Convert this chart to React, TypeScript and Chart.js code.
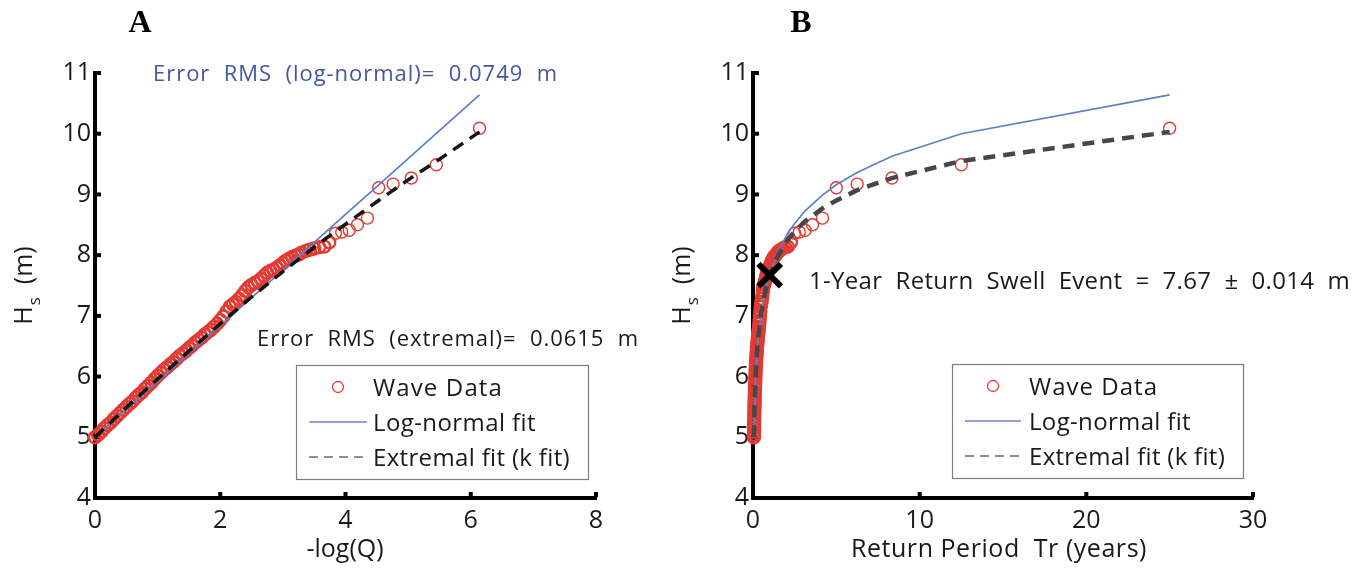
import React, { useEffect, useRef } from "react";
import { Chart, registerables } from "chart.js";

Chart.register(...registerables);

// Ranked significant wave heights (largest event last): plotting position -log(Q),
// return period Tr (years) and Hs (m).
const waveNegLogQ = [
  0.0, 0.05, 0.1, 0.15, 0.2, 0.25, 0.3, 0.35, 0.4, 0.45, 0.5, 0.55, 0.6, 0.65, 0.7, 0.75,
  0.8, 0.85, 0.9, 0.95, 1.0, 1.05, 1.1, 1.15, 1.2, 1.25, 1.3, 1.35, 1.4, 1.45, 1.5, 1.55,
  1.6, 1.65, 1.7, 1.75, 1.8, 1.85, 1.9, 1.95, 2.0, 2.05, 2.1, 2.15, 2.2, 2.25, 2.3, 2.35,
  2.4, 2.45, 2.5, 2.55, 2.6, 2.65, 2.7, 2.75, 2.8, 2.85, 2.9, 2.95, 3.0, 3.05, 3.1, 3.15,
  3.2, 3.25, 3.3, 3.37, 3.43, 3.5, 3.58, 3.66, 3.74, 3.84, 3.94, 4.06, 4.19, 4.35, 4.53,
  4.76, 5.05, 5.45, 6.14,
];
const waveReturnPeriod = [
  0.054, 0.0566, 0.0595, 0.0625, 0.0657, 0.0691, 0.0726, 0.0763, 0.0803, 0.0844, 0.0887,
  0.0933, 0.098, 0.1031, 0.1083, 0.1139, 0.1197, 0.1259, 0.1323, 0.1391, 0.1462, 0.1537,
  0.1616, 0.1699, 0.1786, 0.1878, 0.1974, 0.2075, 0.2182, 0.2294, 0.2411, 0.2535, 0.2665,
  0.2801, 0.2945, 0.3096, 0.3255, 0.3422, 0.3597, 0.3781, 0.3975, 0.4179, 0.4393, 0.4619,
  0.4855, 0.5104, 0.5366, 0.5641, 0.593, 0.6234, 0.6554, 0.689, 0.7244, 0.7615, 0.8005,
  0.8416, 0.8847, 0.9301, 0.9778, 1.0279, 1.0806, 1.136, 1.1943, 1.2555, 1.3199, 1.3875,
  1.4587, 1.5625, 1.667, 1.786, 1.923, 2.083, 2.273, 2.5, 2.778, 3.125, 3.571, 4.167, 5.0,
  6.25, 8.333, 12.5, 25.0,
];
const waveHs = [
  5.0, 5.04, 5.09, 5.15, 5.2, 5.24, 5.3, 5.35, 5.4, 5.45, 5.5, 5.55, 5.59, 5.65, 5.7, 5.74,
  5.8, 5.85, 5.9, 5.96, 6.01, 6.06, 6.11, 6.15, 6.2, 6.24, 6.29, 6.34, 6.38, 6.42, 6.47, 6.51,
  6.56, 6.6, 6.64, 6.69, 6.73, 6.77, 6.82, 6.87, 6.93, 6.99, 7.07, 7.15, 7.19, 7.23, 7.28,
  7.34, 7.41, 7.47, 7.51, 7.54, 7.57, 7.61, 7.66, 7.71, 7.74, 7.76, 7.79, 7.83, 7.87, 7.91,
  7.94, 7.97, 7.99, 8.01, 8.04, 8.07, 8.09, 8.11, 8.13, 8.14, 8.21, 8.36, 8.38, 8.41, 8.5,
  8.61, 9.11, 9.17, 9.27, 9.49, 10.09,
];
// Events from this index on are the sparse upper tail
const sparseTailStart = 73;

// Fitted distributions against -log(Q)
const fitNegLogQ = [0, 0.5, 1, 1.5, 2, 2.5, 3, 3.5, 4, 4.5, 5, 5.5, 6.14];
const logNormalFitA = [5.0, 5.46, 5.92, 6.38, 6.84, 7.3, 7.75, 8.21, 8.67, 9.13, 9.59, 10.05, 10.64];
const extremalFitA = [5.0, 5.49, 5.96, 6.42, 6.87, 7.31, 7.73, 8.13, 8.51, 8.88, 9.24, 9.58, 10.03];

// Fitted distributions against return period
const fitReturnPeriod = [0.054, 0.1, 0.2, 0.3, 0.5, 0.75, 1, 1.5, 2.083, 2.5, 3.125, 4.167, 5, 6.25, 8.333, 12.5, 25];
const logNormalFitB = [5.0, 5.57, 6.2, 6.58, 7.05, 7.42, 7.68, 8.05, 8.36, 8.52, 8.73, 8.99, 9.16, 9.36, 9.63, 10.0, 10.64];
const extremalFitB = [5.0, 5.6, 6.25, 6.62, 7.07, 7.42, 7.67, 7.99, 8.25, 8.39, 8.56, 8.77, 8.9, 9.07, 9.27, 9.55, 10.03];

// One-year return event
const oneYearPeriod = [1];
const oneYearHs = [7.67];
const oneYearError = 0.014;

const errorRmsLogNormal = 0.0749;
const errorRmsExtremal = 0.0615;

const hsTicks = [4, 5, 6, 7, 8, 9, 10, 11];
const negLogQTicks = [0, 2, 4, 6, 8];
const returnPeriodTicks = [0, 10, 20, 30];

const legendLabels = ["Wave Data", "Log-normal fit", "Extremal fit (k fit)"];

const SANS = '"Open Sans", "DejaVu Sans", sans-serif';
const SERIF = '"Liberation Serif", "Times New Roman", serif';
const RED = "#e23b33";
const BLUE = "#5b80c6";

const pts = (xs: number[], ys: number[]) => xs.map((x, i) => ({ x, y: ys[i] }));

function drawText(ctx: any, t: any) {
  ctx.save();
  ctx.font = `${t.weight || ""} ${t.size}px ${t.family || SANS}`;
  ctx.fillStyle = t.color || "#1a1a1a";
  ctx.textBaseline = "alphabetic";
  ctx.textAlign = "left";
  ctx.letterSpacing = "0px";
  let w = ctx.measureText(t.text).width;
  if (t.width) {
    const n = Array.from(t.text as string).length;
    ctx.letterSpacing = `${(t.width - w) / n}px`;
    w = t.width;
  }
  const x = t.align === "center" ? t.x - w / 2 : t.x;
  ctx.fillText(t.text, x, t.cy + 0.357 * t.size);
  ctx.restore();
}

function drawYTitle(ctx: any, cx: number, cy: number) {
  ctx.save();
  ctx.translate(cx, cy);
  ctx.rotate(-Math.PI / 2);
  const big = `25px ${SANS}`;
  const small = `17px ${SANS}`;
  ctx.font = big;
  const wH = ctx.measureText("H").width;
  const wM = ctx.measureText("  (m)").width;
  ctx.font = small;
  const wS = ctx.measureText("s").width + 1;
  let x = -(wH + wS + wM) / 2;
  const base = 0.357 * 25;
  ctx.fillStyle = "#1a1a1a";
  ctx.textBaseline = "alphabetic";
  ctx.font = big;
  ctx.fillText("H", x, base);
  x += wH;
  ctx.font = small;
  ctx.fillText("s", x + 1, base + 8);
  x += wS;
  ctx.font = big;
  ctx.fillText("  (m)", x, base);
  ctx.restore();
}

function drawLegend(ctx: any, L: any) {
  ctx.save();
  ctx.fillStyle = "#ffffff";
  ctx.fillRect(L.left, L.top, L.right - L.left, L.bottom - L.top);
  ctx.strokeStyle = "#7d7d7d";
  ctx.lineWidth = 1.2;
  ctx.strokeRect(L.left + 0.5, L.top + 0.5, L.right - L.left, L.bottom - L.top);

  ctx.strokeStyle = RED;
  ctx.lineWidth = 1.3;
  ctx.beginPath();
  ctx.arc(L.symbolX, L.rows[0], 5.5, 0, Math.PI * 2);
  ctx.stroke();

  ctx.strokeStyle = "#7184c4";
  ctx.lineWidth = 1.5;
  ctx.beginPath();
  ctx.moveTo(L.lineFrom, L.rows[1]);
  ctx.lineTo(L.lineTo, L.rows[1]);
  ctx.stroke();

  ctx.strokeStyle = "#6a6a6a";
  ctx.setLineDash([9, 6]);
  ctx.beginPath();
  ctx.moveTo(L.lineFrom, L.rows[2]);
  ctx.lineTo(L.lineTo, L.rows[2]);
  ctx.stroke();
  ctx.setLineDash([]);
  ctx.restore();

  legendLabels.forEach((text, i) =>
    drawText(ctx, { text, x: L.textX, cy: L.rows[i], size: 24, width: L.widths[i] })
  );
}

function decorPlugin(spec: any) {
  return {
    id: "panelDecor",
    beforeDatasetsDraw(chart: any) {
      const { ctx, chartArea, scales } = chart;
      ctx.save();
      ctx.fillStyle = "#000";
      scales.x.ticks.forEach((t: any) => {
        const px = scales.x.getPixelForValue(t.value);
        ctx.fillRect(px - 2, chartArea.bottom - 6, 4, 5);
      });
      scales.y.ticks.forEach((t: any) => {
        const py = scales.y.getPixelForValue(t.value);
        ctx.fillRect(chartArea.left + 1, py - 2, 5, 4);
      });
      ctx.restore();
    },
    afterDraw(chart: any) {
      const { ctx } = chart;
      drawText(ctx, {
        text: spec.letter, x: spec.letterX, cy: 21, size: 32, weight: "bold",
        family: SERIF, color: "#000", align: "center",
      });
      drawYTitle(ctx, 23.5, 285.5);
      drawText(ctx, {
        text: spec.xTitle, x: spec.xTitleX, cy: 548, size: 25, align: "center",
        width: spec.xTitleWidth,
      });
      spec.notes.forEach((n: any) => drawText(ctx, n));
      drawLegend(ctx, spec.legend);
    },
  };
}

function buildConfig(spec: any) {
  const tickFont = { family: SANS, size: 25 };
  return {
    type: "scatter",
    data: {
      datasets: spec.datasets,
    },
    options: {
      animation: false,
      responsive: false,
      maintainAspectRatio: false,
      layout: { padding: { left: 0, top: 73, right: spec.padRight, bottom: 0 } },
      plugins: { legend: { display: false }, tooltip: { enabled: false } },
      scales: {
        x: {
          type: "linear",
          min: spec.xTicks[0],
          max: spec.xTicks[spec.xTicks.length - 1],
          afterFit: (s: any) => {
            s.height = 70;
          },
          grid: { display: false, drawTicks: false },
          border: { display: true, color: "#000", width: 4 },
          ticks: {
            stepSize: spec.xTicks[1] - spec.xTicks[0],
            font: tickFont,
            color: "#1a1a1a",
            padding: 8,
            maxRotation: 0,
            autoSkip: false,
          },
        },
        y: {
          type: "linear",
          min: hsTicks[0],
          max: hsTicks[hsTicks.length - 1],
          afterFit: (s: any) => {
            s.width = 95;
          },
          grid: { display: false, drawTicks: false },
          border: { display: true, color: "#000", width: 4 },
          ticks: {
            stepSize: hsTicks[1] - hsTicks[0],
            font: tickFont,
            color: "#1a1a1a",
            padding: 4,
            autoSkip: false,
          },
        },
      },
    },
    plugins: [decorPlugin(spec)],
  };
}

function seriesSet(waveX: number[], fitX: number[], logN: number[], ext: number[], dashColor: string, dashWidth: number, extra: any[]) {
  return [
    ...extra,
    {
      label: legendLabels[2],
      data: pts(fitX, ext),
      showLine: true,
      borderColor: dashColor,
      borderWidth: dashWidth,
      borderDash: [12, 8],
      pointRadius: 0,
      tension: 0,
      clip: false,
      order: 1,
    },
    {
      label: legendLabels[1],
      data: pts(fitX, logN),
      showLine: true,
      borderColor: BLUE,
      borderWidth: 1.7,
      pointRadius: 0,
      tension: 0,
      clip: false,
      order: 2,
    },
    {
      label: legendLabels[0],
      data: pts(waveX, waveHs),
      showLine: false,
      pointStyle: "circle",
      pointRadius: 6,
      // the crowded lower events overlap into a solid band
      pointBorderWidth: (c: any) => (c.dataIndex < sparseTailStart ? 2.4 : 1.4),
      borderColor: RED,
      backgroundColor: "rgba(0,0,0,0)",
      clip: false,
      order: 3,
    },
  ];
}

const panelA = {
  letter: "A",
  letterX: 140,
  padRight: 62,
  xTicks: negLogQTicks,
  xTitle: "-log(Q)",
  xTitleX: 345,
  datasets: seriesSet(waveNegLogQ, fitNegLogQ, logNormalFitA, extremalFitA, "#151515", 3.5, []),
  notes: [
    {
      text: `Error  RMS  (log-normal)=  ${errorRmsLogNormal.toFixed(4)}  m`,
      x: 153, cy: 73, size: 22, width: 405, color: "#4356a6",
    },
    {
      text: `Error  RMS  (extremal)=  ${errorRmsExtremal.toFixed(4)}  m`,
      x: 257, cy: 338, size: 22, width: 382, color: "#1a1a1a",
    },
  ],
  legend: {
    left: 296, top: 365, right: 588, bottom: 479,
    symbolX: 338, lineFrom: 309, lineTo: 367, textX: 373,
    rows: [387, 422, 457], widths: [130, 163, 197],
  },
};

const panelB = {
  letter: "B",
  letterX: 143,
  padRight: 115,
  xTicks: returnPeriodTicks,
  xTitle: "Return Period  Tr (years)",
  xTitleX: 341,
  xTitleWidth: 296,
  datasets: seriesSet(waveReturnPeriod, fitReturnPeriod, logNormalFitB, extremalFitB, "#474747", 4.5, [
    {
      label: "1-Year Return",
      data: pts(oneYearPeriod, oneYearHs),
      showLine: false,
      pointStyle: "crossRot",
      pointRadius: 16,
      pointBorderWidth: 6,
      borderColor: "#000",
      clip: false,
      order: 0,
    },
  ]),
  notes: [
    {
      text: `1-Year  Return  Swell  Event  =  ${oneYearHs[0].toFixed(2)}  ±  ${oneYearError.toFixed(3)}  m`,
      x: 151, cy: 280, size: 24, width: 541, color: "#1a1a1a",
    },
  ],
  legend: {
    left: 294, top: 364, right: 585, bottom: 478,
    symbolX: 335, lineFrom: 307, lineTo: 363, textX: 371,
    rows: [386, 421, 456], widths: [129, 162, 196],
  },
};

function Panel({ spec, left, width }: { spec: any; left: number; width: number }) {
  const ref = useRef<HTMLCanvasElement | null>(null);
  useEffect(() => {
    const chart = new Chart(ref.current as HTMLCanvasElement, buildConfig(spec) as any);
    return () => chart.destroy();
  }, [spec]);
  return (
    <canvas
      ref={ref}
      width={width}
      height={568}
      style={{ position: "absolute", left, top: 0, width, height: 568 }}
    />
  );
}

export default function App() {
  return (
    <div style={{ position: "fixed", left: 0, top: 0, width: 1368, height: 568, background: "#fff" }}>
      <Panel spec={panelA} left={0} width={658} />
      <Panel spec={panelB} left={658} width={710} />
    </div>
  );
}
